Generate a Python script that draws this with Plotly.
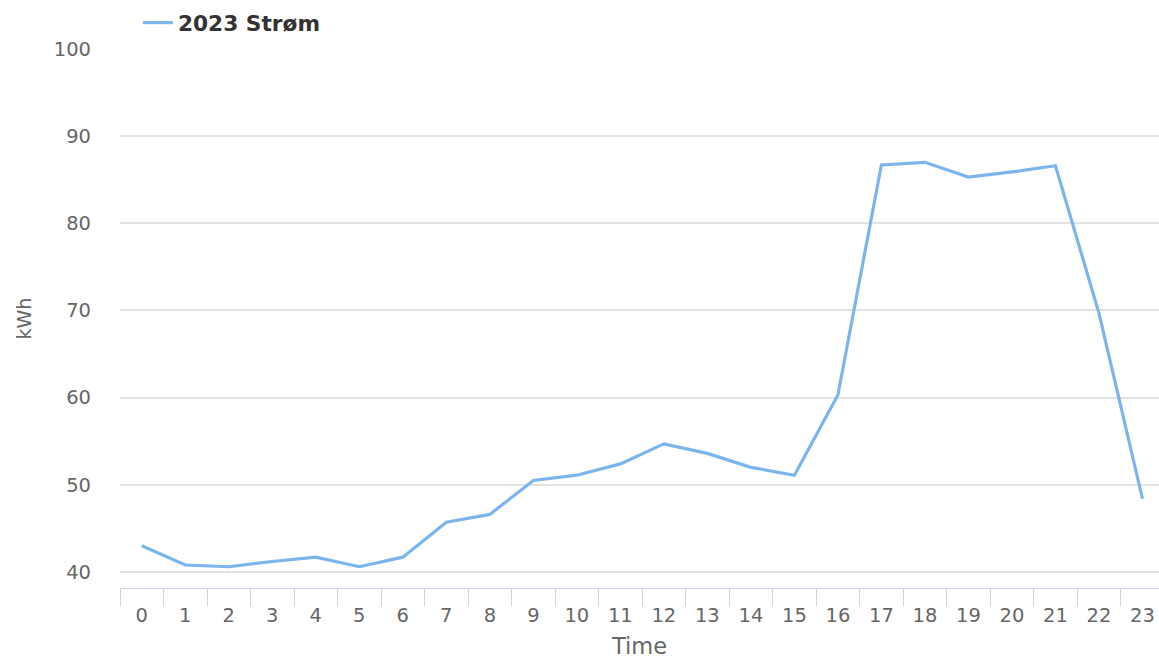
import plotly.graph_objects as go

hours = [str(h) for h in range(24)]
values = [43.0, 40.8, 40.6, 41.2, 41.7, 40.6, 41.7, 45.7, 46.6, 50.5, 51.1, 52.4,
          54.7, 53.6, 52.0, 51.1, 60.3, 86.7, 87.0, 85.3, 85.9, 86.6, 69.7, 48.4]
series_name = "2023 Strøm"
y_ticks = [40, 50, 60, 70, 80, 90, 100]

font = "DejaVu Sans, Verdana, sans-serif"
fig = go.Figure()
fig.add_trace(go.Scatter(x=hours, y=values, mode="lines", name=series_name,
                         line=dict(color="#7cb5ec", width=3.2)))
fig.update_layout(
    width=1159, height=659,
    margin=dict(l=120, r=0, t=49, b=71),
    plot_bgcolor="white", paper_bgcolor="white",
    font=dict(family=font, color="#666666", size=19),
    showlegend=True,
    legend=dict(orientation="h", x=0.119, xref="container", y=1 - 23 / 659, yref="container",
                xanchor="left", yanchor="middle",
                font=dict(size=21.7, color="#333333", family=font, weight="bold"),
                bgcolor="rgba(0,0,0,0)", itemwidth=30),
)
fig.update_xaxes(type="category", range=[-0.5, 23.38], tickson="boundaries",
                 ticks="outside", ticklen=17, tickcolor="#ccd6eb", tickwidth=1,
                 showline=True, linecolor="#ccd6eb", linewidth=1, automargin=False,
                 showgrid=False, tickfont=dict(size=19.5, color="#666666"),
                 ticklabelstandoff=10,
                 title=dict(text="Time", font=dict(size=22.5, color="#666666"), standoff=64))
fig.update_yaxes(range=[38.16, 100], tickvals=y_ticks, showgrid=True, automargin=False,
                 gridcolor="#e3e3e3", gridwidth=1.5, zeroline=False, showline=False,
                 ticks="", tickfont=dict(size=19.5, color="#666666"), ticklabelstandoff=28,
                 title=dict(text="kWh", font=dict(size=19, color="#666666"), standoff=17))
fig.write_html("out.html", config={"displayModeBar": False},
               post_script="document.body.style.margin='0';document.body.style.overflow='hidden';")
